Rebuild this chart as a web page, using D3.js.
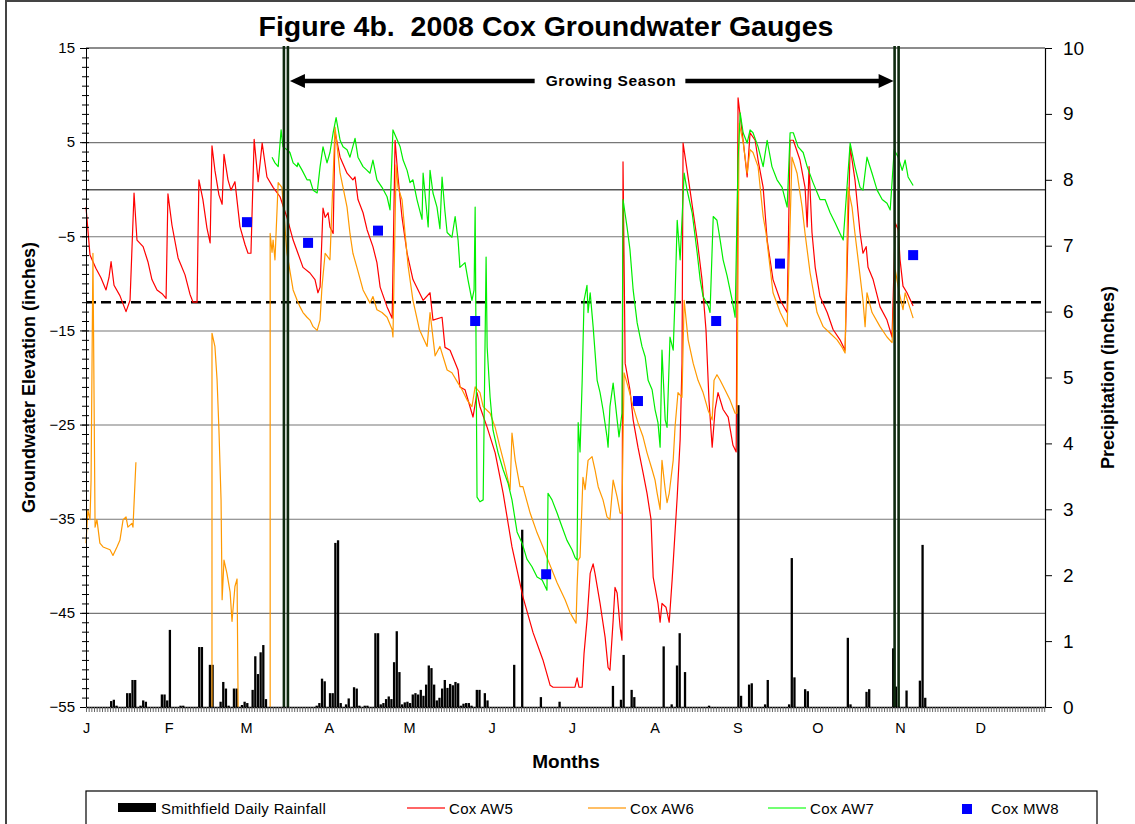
<!DOCTYPE html>
<html>
<head>
<meta charset="utf-8">
<script src="https://cdn.jsdelivr.net/npm/d3@7"></script>
<style>
body { margin: 0; background: #fff; }
text { font-family: Arial, "Liberation Sans", sans-serif; }
</style>
</head>
<body>
<div id="graph"></div>
<script>
// ---- data (day of year 2008, Jan 1 = 0) ----
var monthLabels = ['J', 'F', 'M', 'A', 'M', 'J', 'J', 'A', 'S', 'O', 'N', 'D'];
var monthStarts = [0, 31, 60, 91, 121, 152, 182, 213, 244, 274, 305, 335];
var leftTicks   = [15, 5, -5, -15, -25, -35, -45, -55];
var gridValues  = [5, 0, -5, -15, -25, -35, -45];
var rightTicks  = [0, 1, 2, 3, 4, 5, 6, 7, 8, 9, 10];
var threshold   = -12;
var growingSeason = [74.9, 303.7];

// Smithfield daily rainfall [day, inches]
var rainfall = [
  [9,0.09],[10,0.11],[11,0.02],[15,0.21],[16,0.21],[17,0.41],[18,0.41],[20,0.02],[21,0.1],[22,0.08],
  [28,0.19],[29,0.19],[30,0.1],[31,1.17],[35,0.02],[36,0.02],[42,0.91],[43,0.91],[46,0.64],[47,0.64],
  [50,0.08],[51,0.38],[52,0.28],[53,0.02],[55,0.28],[56,0.28],[58,0.03],[59,0.08],[60,0.06],[62,0.26],
  [63,0.77],[64,0.5],[65,0.83],[66,0.94],[67,0.12],[86,0.02],[87,0.06],[88,0.43],[89,0.39],[91,0.21],
  [92,0.21],[93,2.49],[94,2.53],[95,0.06],[97,0.04],[98,0.13],[100,0.3],[101,0.28],[102,0.02],[104,0.02],
  [105,0.02],[108,1.12],[109,1.12],[110,0.04],[111,0.06],[112,0.12],[113,0.16],[114,0.12],[115,0.68],
  [116,1.15],[117,0.53],[118,0.04],[119,0.07],[120,0.08],[121,0.06],[122,0.19],[123,0.21],[124,0.19],
  [125,0.26],[126,0.17],[127,0.34],[128,0.63],[129,0.59],[130,0.34],[131,0.1],[132,0.14],[133,0.28],
  [134,0.41],[135,0.29],[136,0.35],[137,0.33],[138,0.38],[139,0.36],[140,0.02],[141,0.05],[142,0.06],
  [143,0.06],[144,0.02],[146,0.26],[147,0.26],[149,0.21],[150,0.1],[160,0.64],[163,2.69],[170,0.15],
  [177,0.08],[197,0.32],[200,0.11],[201,0.79],[204,0.26],[205,0.15],[216,0.92],[219,0.04],[221,0.63],
  [222,1.12],[224,0.53],[233,0.02],[244,4.58],[245,0.17],[248,0.34],[249,0.36],[254,0.04],[255,0.41],
  [263,0.04],[264,2.26],[265,0.45],[269,0.27],[270,0.24],[285,1.05],[286,0.04],[292,0.23],[293,0.27],
  [302,0.89],[303,0.31],[307,0.25],[312,0.4],[313,2.46],[314,0.14]
];

// Cox AW5 groundwater elevation [day, inches]
var coxAW5 = [
  [0,-1.9],[1.5,-7.0],[3.7,-8.4],[5.6,-9.4],[7.5,-10.7],[8.6,-9.4],[9.4,-7.7],[10.5,-10.2],[12.7,-11.3],[15,-13],
  [16.5,-11.8],[18,-0.4],[19.1,-5.4],[21.4,-6.1],[23.2,-7.7],[24.7,-9.6],[26.6,-10.7],[28.5,-11.1],[30,-11.6],
  [30.7,-0.5],[32.2,-3.8],[34.5,-7.3],[37.1,-9.1],[39,-11.2],[40.1,-12],[41.6,-12],[42.3,1],[43.8,-1.1],
  [45.3,-4.1],[46.5,-5.7],[47.2,4.6],[48.3,2],[49.8,-0.6],[51,-1.6],[51.7,3.7],[53.2,1],[54.3,-0.1],[55.8,0.8],
  [57.7,-4],[59.6,-5.9],[60.7,-6.8],[61.8,-6.8],[63,5.3],[64.5,0.8],[66,4.9],[67.8,1.3],[70.1,0.2],[72.7,-0.8],
  [75.3,-3],[77.6,-5.4],[79.4,-6.8],[81.3,-8.3],[83.9,-8.9],[85.8,-9.6],[86.9,-11],[87.7,-10.4],[88.8,-2],
  [89.6,-3],[90.7,-2.5],[91.4,-4],[92.6,-4.7],[93.3,6.1],[95.2,3.4],[97.8,1.7],[100,1],[100.8,1.3],[101.9,-1.1],
  [103.8,-2.5],[105.3,-4.3],[107.5,-6.1],[109,-7.8],[110.2,-10.4],[112.8,-12.5],[114.7,-13.7],[115.8,5.2],
  [116.9,1.3],[118.4,-3],[120.3,-6.8],[122.5,-9.6],[126.3,-11.8],[128.9,-11],[130,-13.9],[133.4,-13.6],
  [134.5,-16.8],[136.4,-17.1],[139.4,-19.2],[140.1,-21],[142,-21.3],[145,-24.2],[146.5,-21.6],[147.6,-23.1],
  [150.3,-25.3],[153.3,-28],[156.3,-32.3],[159.6,-38],[163.7,-43.3],[167.5,-47.1],[171.2,-50],[173.9,-52.7],
  [175,-52.9],[183.2,-52.9],[184,-51.9],[184.7,-52.9],[185.9,-52.9],[186.6,-49.3],[187.7,-45.8],[188.9,-40.8],
  [190,-39.8],[190.7,-40.8],[192.6,-44],[194.5,-47.6],[195.6,-50.8],[196.3,-51.1],[197.5,-45.8],[198.2,-42.3],
  [199,-42.9],[200.1,-46.5],[200.8,-47.9],[201.2,2.9],[202,-18.5],[203.8,-21.3],[205,-24.5],[206.8,-27.4],
  [208.7,-30.1],[210.2,-32.3],[211.7,-35.1],[212.5,-41.2],[214.3,-44],[215.1,-46],[215.8,-44],[217.3,-44.4],
  [218.5,-46],[219.6,-41.5],[221.5,-32.7],[222.6,-26.6],[223.3,-18.5],[223.7,4.9],[226.3,-0.1],[229,-5.4],
  [230.8,-9.6],[232.3,-15],[233.4,-22.4],[234.6,-27.4],[235.7,-23.4],[236.8,-21.6],[238.7,-23.4],[240.6,-24.2],
  [242.4,-27.2],[243.6,-27.9],[244.3,9.7],[246.2,5.2],[247.7,1.3],[248.8,6],[250.7,5.2],[251.8,3.1],[253.7,0.2],
  [255.2,-5.4],[257.4,-9.6],[260.1,-11.8],[262.7,-13.1],[263.8,5.2],[265,5.2],[267.5,3.1],[269.4,0.2],[270.2,-4],
  [270.9,2.4],[272,-4.6],[273.2,-8.3],[275,-11.4],[277.7,-13.1],[279.9,-14.9],[282.5,-16],[284.4,-17.1],
  [286.3,4.5],[288.1,1],[290,-4.6],[291.1,-6.8],[292.3,-6.1],[293,-8.3],[294.9,-9.6],[297.5,-12.5],[300.1,-13.9],
  [302,-15.7],[303.2,-3.6],[304.3,-4.3],[305,-7.5],[306.1,-10.3],[307.6,-11],[309.9,-12.4]
];

// Cox AW6 (null = gap in record)
var coxAW6 = [
  [0,-37.6],[0.7,-34.1],[1.5,-35.1],[1.9,-30.9],[2.6,-6.8],[3.4,-35.9],[4.1,-35.1],[5.2,-37.6],[6.4,-38],
  [9,-38.3],[10.1,-38.9],[11.6,-38],[12.7,-37.3],[13.9,-35.1],[15,-34.8],[15.7,-35.9],[17.2,-35.5],[17.6,-35.9],
  [18.7,-29], null,
  [47.2,-55],[47.2,-15.3],[48.3,-16.7],[49.1,-20.2],[49.8,-25.5],[50.6,-33],[51,-43.6],[51.7,-39.4],[52.8,-40.8],
  [54,-42.8],[54.7,-45.9],[55.8,-42.2],[56.6,-41.4],[57,-55], null,
  [69,-55],[69,-4.7],[69.7,-6.7],[70.1,-5.4],[70.8,-7.5],[72,0.7],[73.4,0.2],[75.3,-6.8],[77.6,-10.7],[79.1,-11.8],
  [80.2,-12.5],[81.3,-13.1],[82.8,-13.6],[83.9,-13.9],[85.1,-14.6],[86.6,-15],[87.7,-13.9],[88.4,-10.4],
  [89.6,-6.8],[91.4,-7.5],[93.3,6.6],[95.2,1.7],[96.3,0.2],[97.8,-1.9],[98.9,-4.7],[100,-6.8],[101.5,-8.3],
  [103.8,-10.7],[106.4,-12.1],[107.5,-11.4],[109,-12.8],[110.9,-13.1],[112.8,-13.6],[114.7,-14.9],[115,-15.7],
  [116.2,2.6],[116.9,0.2],[118.4,-1.1],[119.5,-4.6],[120.7,-8.2],[122.5,-11.8],[124.9,-14.9],[127.8,-16.7],
  [128.9,-13.1],[130.8,-17.7],[132.6,-16.7],[135.3,-19.2],[137.1,-19.5],[139.4,-20.6],[140.9,-21.3],
  [142.8,-22.4],[144.6,-23.1],[145.8,-21],[147.6,-21.6],[148.8,-23.1],[151.4,-23.8],[153.3,-25.3],[155.1,-27.4],
  [157,-29.5],[158.9,-31.9],[159.6,-25.9],[160.8,-28.8],[162.6,-31.6],[163.7,-31.6],[166.4,-34.4],[169,-36.5],
  [171.2,-38],[173.1,-39.4],[176.5,-41.8],[179.5,-43.6],[181.4,-45],[183.6,-46.1],[184,-42.2],[184.4,-39.4],
  [185.1,-39.1],[186.2,-30.6],[187,-31.9],[188.1,-28.8],[189.6,-28.4],[190.7,-29.8],[191.9,-31.6],[193.7,-33],
  [195.2,-34.8],[196.3,-35.1],[197.5,-30.9],[199,-32.7],[200.1,-34.4],[200.8,-34.4],[201.6,-19.5],[203.1,-21],
  [205,-23.1],[206.8,-24.8],[208.7,-26.3],[210.2,-28],[212.1,-29.8],[213.2,-30.9],[214,-32.3],[215.1,-34],
  [215.8,-28.8],[217,-31.9],[217.7,-33.3],[218.5,-32.3],[220,-28.8],[220.7,-25.2],[221.8,-21.6],[223.3,-22.1],
  [224.1,-11.8],[225.6,-16],[227.5,-18.5],[229.3,-20.3],[231.2,-21.6],[233.1,-23.5],[234.6,-24.5],[235.3,-20.3],
  [236.4,-19.7],[237.6,-20.3],[239.4,-21.3],[241.3,-22.4],[243.2,-23.8],[243.9,-23.8],[244.7,7],[246.2,5],
  [247.7,1.7],[248.8,4.2],[249.9,3.9],[251.8,2.4],[253.7,-2.9],[254.8,-4.7],[257.4,-11],[260.1,-13.1],
  [262.7,-14.6],[264.5,3.4],[266.4,1.7],[268.3,-1.9],[269.4,-4.7],[271.3,-8.9],[273.9,-13.1],[276.2,-14.6],
  [278.8,-15.3],[281.4,-16],[283.3,-16.8],[284.4,-17.4],[285.5,0.2],[287,-1.9],[288.1,-4.7],[289.3,-7.5],
  [291.1,-11.8],[291.9,-14.6],[292.6,-11],[294.5,-13.1],[297.5,-14.6],[300.1,-15.7],[302,-16.3],[303.2,-8.6],
  [304.7,-11],[306.1,-12.8],[306.9,-11],[308,-12],[309.9,-13.7]
];

// Cox AW7
var coxAW7 = [
  [69.7,3.4],[70.8,2.8],[72,2.4],[73.1,6.3],[73.8,4.5],[75.3,4.2],[76.4,3.9],[77.6,2.8],[79.1,2.4],[79.4,2.8],
  [81,2],[82.8,1],[83.9,1],[85.1,-0.1],[86.6,-0.4],[87.7,2.4],[88.8,4.5],[90.3,2.8],[91.4,3.9],[92.6,6],[93.7,7.6],
  [95.2,5.2],[96.3,4.5],[97.8,4.2],[98.9,3.4],[100.8,5.4],[101.9,3.4],[103.8,2.4],[105.3,2],[106.4,1.7],[107.5,3.1],
  [109,1],[110.9,0.2],[112.8,-0.8],[113.9,-2.2],[115,6.3],[117.7,4.5],[118.8,3.1],[120.3,2],[121.4,0.7],[122.5,1],
  [124,-1.1],[125.9,-3.2],[126.3,1.7],[128.2,-4],[128.9,2],[130,-0.4],[131.5,-1.9],[132.6,-4.2],[133.4,1.3],
  [134.5,-2.4],[135.3,-4.6],[137.1,-5.1],[138.3,-2.9],[139.4,-5.4],[140.1,-8.3],[142,-7.8],[143.1,-9.6],
  [144.6,-11.8],[145.4,-10.7],[145.8,-1.9],[146.5,-32.7],[147.6,-33.2],[148.8,-33],[149.9,-7.2],[150.3,-16.8],
  [151.4,-22.1],[152.5,-25.6],[154.4,-28],[156.3,-29.8],[158.1,-31.2],[159.6,-33],[161.5,-36.4],[163.4,-37.6],
  [165.2,-39.3],[167.1,-40.1],[169,-41.2],[170.9,-41.5],[172.7,-42.6],[173.1,-32.3],[174.6,-33],[176.5,-34.4],
  [178.4,-35.9],[180.2,-37.3],[182.1,-38.3],[183.2,-39.1],[184,-39.4],[184.4,-24.8],[185.1,-27.9],[185.9,-20.3],
  [186.6,-11.8],[187.7,-10.2],[188.1,-13.1],[188.9,-11],[190,-14.6],[191.5,-20.3],[192.6,-21.6],[193.7,-23.4],
  [195.2,-26.3],[195.6,-27.4],[196.3,-23.1],[197.5,-20.6],[199,-24.5],[199.7,-26.3],[200.8,-23.8],[201.2,-1.1],
  [202.7,-4],[203.8,-6.4],[205,-10.7],[206.5,-14.2],[208.3,-16.7],[209.5,-17.8],[210.6,-20.3],[212.1,-21.3],
  [213.2,-23.4],[214.3,-24.8],[215.1,-27.4],[215.8,-17.1],[217,-24.5],[217.7,-25.3],[218.8,-15.7],[220,-17.1],
  [220.7,-11.4],[221.5,-3.3],[222.6,-7.5],[224.1,1.7],[225.2,-0.1],[227.1,-2.5],[229,-6.8],[230.1,-9.6],
  [231.2,-11.4],[233.1,-12.4],[233.8,-13.1],[235,-2.9],[236.4,-3.3],[237.6,-5.4],[238.7,-7.5],[240.2,-9.2],
  [242.1,-11.8],[243.2,-13.6],[244.3,3.1],[245.1,8.1],[246.2,6],[247.7,4.9],[248.8,6.3],[249.9,6],[251.8,4.5],
  [253.7,2.4],[255.2,5.2],[257,2.4],[258.9,1],[260.8,0.2],[262.7,-1.9],[263.8,6],[265,6],[266.8,4.5],[268.7,3.9],
  [270.2,2.4],[272.4,0.7],[275,-1.1],[276.9,-1.1],[278.8,-2.5],[280.7,-3.6],[282.5,-4.7],[283.7,-5.4],[286.3,4.9],
  [288.1,2.4],[290,0.2],[291.1,-0.1],[292.6,3.4],[294.5,1.7],[296.4,-0.1],[298.3,-1.1],[300.1,-1.5],[301.3,-2.2],
  [302.8,4.2],[304.3,3.4],[305.8,2],[306.9,3.1],[308,1.3],[309.9,0.4]
];

// Cox MW8 (monthly readings)
var coxMW8 = [[60.3,-3.5],[83.2,-5.7],[109.4,-4.4],[145.8,-14],[172.4,-40.9],[206.8,-22.5],[236.1,-14],[260,-7.9],[309.9,-7]];

// ---- chart ----
var W = 1135, H = 824;
var plot = { left: 86, right: 1045, top: 48, bottom: 707 };

var svg = d3.select ('#graph')
            .append ('svg')
            .attr ('width', W)
            .attr ('height', H);

var xScale  = d3.scaleLinear ().domain ([0, 359.3]).range ([plot.left, plot.right]);
var yScale  = d3.scaleLinear ().domain ([-55, 15]).range ([plot.bottom, plot.top]);
var y2Scale = d3.scaleLinear ().domain ([0, 10]).range ([plot.bottom, plot.top]);

// outer frame
svg.append ('rect')
   .attr ('x', 6).attr ('y', 1)
   .attr ('width', W + 20).attr ('height', H + 20)
   .attr ('fill', 'none')
   .attr ('stroke', '#444')
   .attr ('stroke-width', 2);

// horizontal grid
svg.append ('g')
   .attr ('transform', 'translate(' + plot.left + ',0)')
   .call (d3.axisLeft (yScale).tickValues (gridValues).tickSize (-(plot.right - plot.left)).tickFormat (''))
   .call (function (g) { g.select ('.domain').remove (); })
   .selectAll ('line')
   .attr ('stroke', function (d) { return d === 0 ? '#555' : '#777'; })
   .attr ('stroke-width', function (d) { return d === 0 ? 1.6 : 1.1; });

// top border of plot
svg.append ('line')
   .attr ('x1', plot.left).attr ('x2', plot.right)
   .attr ('y1', yScale (15)).attr ('y2', yScale (15))
   .attr ('stroke', '#666').attr ('stroke-width', 1.3);

// rainfall bars (secondary axis)
svg.append ('g')
   .selectAll ('rect')
   .data (rainfall)
   .enter ()
   .append ('rect')
   .attr ('x', function (d) { return xScale (d[0]); })
   .attr ('y', function (d) { return y2Scale (d[1]); })
   .attr ('width', 2.3)
   .attr ('height', function (d) { return y2Scale (0) - y2Scale (d[1]); })
   .attr ('fill', '#000');

// threshold dashed line
svg.append ('line')
   .attr ('x1', plot.left).attr ('x2', plot.right)
   .attr ('y1', yScale (threshold)).attr ('y2', yScale (threshold))
   .attr ('stroke', '#000')
   .attr ('stroke-width', 2.5)
   .attr ('stroke-dasharray', '10,5');

var line = d3.line ()
             .defined (function (d) { return d !== null; })
             .x (function (d) { return xScale (d[0]); })
             .y (function (d) { return yScale (d[1]); });

var seriesList = [ { data: coxAW5, colour: '#ff0000' },
                   { data: coxAW6, colour: '#ff9900' },
                   { data: coxAW7, colour: '#00ee00' } ];

seriesList.forEach (function (s)
{
    svg.append ('path')
       .datum (s.data)
       .attr ('d', line)
       .attr ('fill', 'none')
       .attr ('stroke', s.colour)
       .attr ('stroke-width', 1.2)
       .attr ('stroke-linejoin', 'round');
});

// growing season double lines
growingSeason.forEach (function (d)
{
    [-2, 2].forEach (function (off)
    {
        svg.append ('line')
           .attr ('x1', xScale (d) + off).attr ('x2', xScale (d) + off)
           .attr ('y1', plot.top - 2).attr ('y2', plot.bottom)
           .attr ('stroke', '#0f2a0f')
           .attr ('stroke-width', 2.6);
    });
});

// MW8 squares
svg.append ('g')
   .selectAll ('rect')
   .data (coxMW8)
   .enter ()
   .append ('rect')
   .attr ('x', function (d) { return xScale (d[0]) - 5; })
   .attr ('y', function (d) { return yScale (d[1]) - 5; })
   .attr ('width', 10).attr ('height', 10)
   .attr ('fill', '#0000ff');

// left axis (major + minor)
var leftAxis = svg.append ('g')
   .attr ('transform', 'translate(' + plot.left + ',0)')
   .call (d3.axisLeft (yScale).tickValues (leftTicks).tickSize (6).tickPadding (5).tickFormat (d3.format ('d')));
leftAxis.selectAll ('text').attr ('font-size', 15).attr ('fill', '#000');

svg.append ('g')
   .attr ('transform', 'translate(' + plot.left + ',0)')
   .call (d3.axisLeft (yScale).tickValues (d3.range (-55, 16, 1)).tickSize (4).tickFormat (''))
   .call (function (g) { g.select ('.domain').remove (); });
svg.append ('g')
   .attr ('transform', 'translate(' + plot.left + ',0)')
   .call (d3.axisRight (yScale).tickValues (d3.range (-55, 16, 1)).tickSize (3).tickFormat (''))
   .call (function (g) { g.select ('.domain').remove (); });

// right axis
var rightAxis = svg.append ('g')
   .attr ('transform', 'translate(' + plot.right + ',0)')
   .call (d3.axisRight (y2Scale).tickValues (rightTicks).tickSize (7).tickPadding (11).tickSizeOuter (0));
rightAxis.selectAll ('text').attr ('font-size', 19).attr ('fill', '#000');
rightAxis.select ('.domain').attr ('stroke', '#000').attr ('stroke-width', 1.2);

// bottom axis: daily hatch ticks + month letters
svg.append ('g')
   .attr ('transform', 'translate(0,' + plot.bottom + ')')
   .call (d3.axisBottom (xScale).tickValues (d3.range (0, 360, 1)).tickSize (5).tickSizeOuter (0).tickFormat (''))
   .call (function (g) { g.selectAll ('.tick line').attr ('stroke', '#666'); g.select ('.domain').attr ('stroke', '#000').attr ('stroke-width', 1.5); });

var monthAxis = svg.append ('g')
   .attr ('transform', 'translate(0,' + plot.bottom + ')')
   .call (d3.axisBottom (xScale).tickValues (monthStarts).tickSize (0).tickPadding (16)
            .tickFormat (function (d, i) { return monthLabels[i]; }))
   .call (function (g) { g.select ('.domain').remove (); });
monthAxis.selectAll ('text').attr ('font-size', 14.5).attr ('fill', '#000');

// growing season arrow
var arrowY = yScale (11.5);
var xa = xScale (growingSeason[0]) + 4;
var xb = xScale (growingSeason[1]) - 3;
var label = svg.append ('text')
   .attr ('x', xScale (196.7))
   .attr ('y', arrowY + 5.5)
   .attr ('text-anchor', 'middle')
   .attr ('font-size', 15.5)
   .attr ('font-weight', 'bold')
   .attr ('letter-spacing', 0.6)
   .text ('Growing Season');
var lb = label.node ().getBBox ();

svg.append ('line')
   .attr ('x1', xa + 14).attr ('x2', lb.x - 11)
   .attr ('y1', arrowY).attr ('y2', arrowY)
   .attr ('stroke', '#000').attr ('stroke-width', 4.5);
svg.append ('line')
   .attr ('x1', lb.x + lb.width + 9).attr ('x2', xb - 14)
   .attr ('y1', arrowY).attr ('y2', arrowY)
   .attr ('stroke', '#000').attr ('stroke-width', 4.5);
svg.append ('path')
   .attr ('d', 'M' + xa + ',' + arrowY + 'L' + (xa + 15) + ',' + (arrowY - 7) + 'L' + (xa + 15) + ',' + (arrowY + 7) + 'Z')
   .attr ('fill', '#000');
svg.append ('path')
   .attr ('d', 'M' + xb + ',' + arrowY + 'L' + (xb - 15) + ',' + (arrowY - 7) + 'L' + (xb - 15) + ',' + (arrowY + 7) + 'Z')
   .attr ('fill', '#000');

// titles
svg.append ('text')
   .attr ('x', 546).attr ('y', 36)
   .attr ('text-anchor', 'middle')
   .attr ('font-size', 28.5)
   .attr ('font-weight', 'bold')
   .style ('white-space', 'pre')
   .text ('Figure 4b.  2008 Cox Groundwater Gauges');

svg.append ('text')
   .attr ('transform', 'translate(35,' + ((plot.top + plot.bottom) / 2) + ') rotate(-90)')
   .attr ('text-anchor', 'middle')
   .attr ('font-size', 18)
   .attr ('font-weight', 'bold')
   .text ('Groundwater Elevation (inches)');

svg.append ('text')
   .attr ('transform', 'translate(1114,' + ((plot.top + plot.bottom) / 2) + ') rotate(-90)')
   .attr ('text-anchor', 'middle')
   .attr ('font-size', 18)
   .attr ('font-weight', 'bold')
   .text ('Precipitation (inches)');

svg.append ('text')
   .attr ('x', 566).attr ('y', 768)
   .attr ('text-anchor', 'middle')
   .attr ('font-size', 19)
   .attr ('font-weight', 'bold')
   .text ('Months');

// legend
svg.append ('rect')
   .attr ('x', 86).attr ('y', 791)
   .attr ('width', 1011).attr ('height', 60)
   .attr ('fill', '#fff')
   .attr ('stroke', '#000').attr ('stroke-width', 1.2);

var legendY = 808;
svg.append ('rect').attr ('x', 118).attr ('y', legendY - 5).attr ('width', 38).attr ('height', 9).attr ('fill', '#000');
[ { x: 407, c: '#ff3333' }, { x: 588, c: '#ffaa33' }, { x: 768, c: '#44ff44' } ].forEach (function (l)
{
    svg.append ('line')
       .attr ('x1', l.x).attr ('x2', l.x + 38)
       .attr ('y1', legendY).attr ('y2', legendY)
       .attr ('stroke', l.c).attr ('stroke-width', 1.5);
});
svg.append ('rect').attr ('x', 962).attr ('y', legendY - 4).attr ('width', 10).attr ('height', 10).attr ('fill', '#0000ff');

var legendText = [ { x: 161, t: 'Smithfield Daily Rainfall' },
                   { x: 449, t: 'Cox AW5' },
                   { x: 630, t: 'Cox AW6' },
                   { x: 810, t: 'Cox AW7' },
                   { x: 991, t: 'Cox MW8' } ];
legendText.forEach (function (l)
{
    svg.append ('text')
       .attr ('x', l.x).attr ('y', legendY + 5.5)
       .attr ('font-size', 15)
       .attr ('letter-spacing', 0.3)
       .text (l.t);
});
</script>
</body>
</html>
